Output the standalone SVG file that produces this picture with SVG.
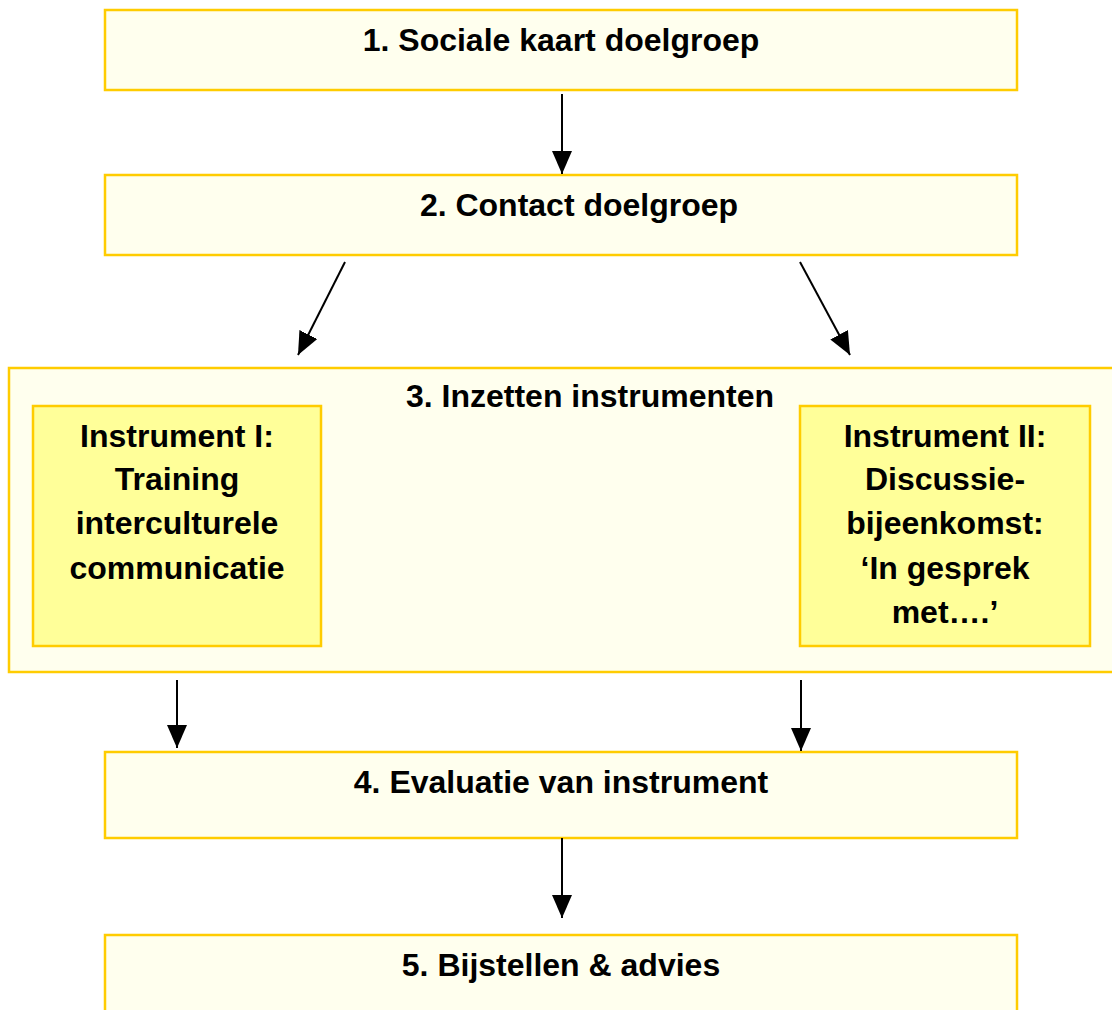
<svg xmlns="http://www.w3.org/2000/svg" width="1112" height="1010" viewBox="0 0 1112 1010">
<style>
.box{fill:#FFFFEE;stroke:#FFCC00;stroke-width:2.5}
.inst{fill:#FFFF99;stroke:#FFCC00;stroke-width:2.5}
.t{font-family:"Liberation Sans",Arial,sans-serif;font-weight:bold;font-size:32px;fill:#000;text-anchor:middle}
.c{stroke:#000;stroke-width:2;fill:none;marker-end:url(#ah)}
</style>
<defs>
<marker id="ah" markerUnits="userSpaceOnUse" markerWidth="23" markerHeight="20" viewBox="0 0 23 20" refX="23" refY="10" orient="auto">
<path d="M0,0 L23,10 L0,20 Z" fill="#000"/>
</marker>
</defs>
<rect width="1112" height="1010" fill="#fff"/>
<g id="node1"><rect class="box" x="105" y="10" width="912" height="80"/><text class="t" x="561" y="51">1. Sociale kaart doelgroep</text></g>
<g id="node2"><rect class="box" x="105" y="175" width="912" height="80"/><text class="t" x="579" y="216">2. Contact doelgroep</text></g>
<g id="node3"><rect class="box" x="9" y="368" width="1110" height="304"/><text class="t" x="590" y="407">3. Inzetten instrumenten</text></g>
<g id="inst1"><rect class="inst" x="33" y="406" width="288" height="240"/>
<text class="t" x="177" y="447">Instrument I:</text>
<text class="t" x="177" y="490">Training</text>
<text class="t" x="177" y="534">interculturele</text>
<text class="t" x="177" y="579">communicatie</text></g>
<g id="inst2"><rect class="inst" x="800" y="406" width="290" height="240"/>
<text class="t" x="945" y="447">Instrument II:</text>
<text class="t" x="945" y="490">Discussie-</text>
<text class="t" x="945" y="534">bijeenkomst:</text>
<text class="t" x="945" y="579">‘In gesprek</text>
<text class="t" x="945" y="623">met….’</text></g>
<g id="node4"><rect class="box" x="105" y="752" width="912" height="86"/><text class="t" x="561" y="793">4. Evaluatie van instrument</text></g>
<g id="node5"><rect class="box" x="105" y="935" width="912" height="90"/><text class="t" x="561" y="976">5. Bijstellen &amp; advies</text></g>
<g id="connectors">
<line class="c" x1="562" y1="94" x2="562" y2="174"/>
<line class="c" x1="345" y1="262" x2="298" y2="355"/>
<line class="c" x1="800" y1="262" x2="850" y2="355"/>
<line class="c" x1="177" y1="680" x2="177" y2="748"/>
<line class="c" x1="801" y1="680" x2="801" y2="751"/>
<line class="c" x1="562" y1="838" x2="562" y2="918"/>
</g>
</svg>
